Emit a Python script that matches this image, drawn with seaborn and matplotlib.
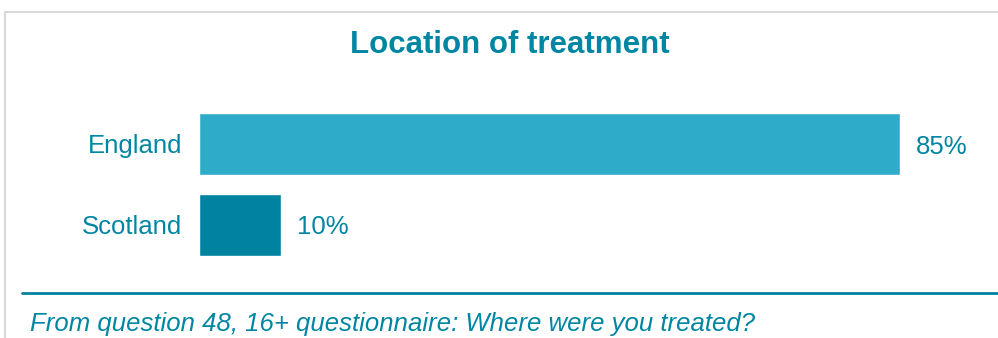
import matplotlib
matplotlib.use("Agg")
import matplotlib.pyplot as plt
from matplotlib.patches import Rectangle
from matplotlib.lines import Line2D
import seaborn as sns
import pandas as pd

# Survey results
locations = ["England", "Scotland"]
percentages = [85, 10]
bar_colors = ["#2EABC9", "#0083A1"]
title = "Location of treatment"
footnote = "From question 48, 16+ questionnaire: Where were you treated?"

TEAL = "#0086A3"

sns.set_theme(style="white")
plt.rcParams["font.family"] = ["Liberation Sans", "DejaVu Sans"]

W, H = 998, 338
fig = plt.figure(figsize=(W / 100, H / 100), dpi=100)
fig.patch.set_facecolor("white")

# Light grey frame around the panel
fig.patches.append(Rectangle((5 / W, -0.1), 1.2, 1 - 12 / H + 0.1,
                             transform=fig.transFigure, fill=False,
                             edgecolor="#D9D9D9", linewidth=1.5))

ax_left = 199 / W
ax_top = 103.5
ax_bot = 265.5
ax = fig.add_axes([ax_left, 1 - ax_bot / H, 1 - ax_left, (ax_bot - ax_top) / H])

df = pd.DataFrame({"location": locations, "pct": percentages})
sns.barplot(data=df, x="pct", y="location", hue="location",
            palette=bar_colors, orient="h", width=0.765, legend=False,
            saturation=1, ax=ax)

px_per_pct = 701 / 85
ax.set_xlim(0, (W - 199) / px_per_pct)
ax.set_ylim(1.5, -0.5)
ax.set_facecolor("none")
for s in ax.spines.values():
    s.set_visible(False)
ax.set_xticks([])
ax.set_xlabel("")
ax.set_ylabel("")
ax.tick_params(axis="y", length=0, pad=12, labelsize=18.5, labelcolor=TEAL)

for i, v in enumerate(percentages):
    ax.annotate(f"{v}%", xy=(v, i), xytext=(11.5, 0), textcoords="offset points",
                ha="left", va="center_baseline", fontsize=18.5, color=TEAL)

fig.text(510 / W, 1 - 45 / H, title, ha="center", va="center",
         fontsize=22.5, fontweight="bold", color=TEAL)

fig.lines.append(Line2D([22 / W, 1.0], [1 - 293 / H] * 2,
                        transform=fig.transFigure, color="#0083A1", linewidth=2))

fig.text(30 / W, 1 - 324 / H, footnote, ha="left", va="center",
         fontsize=18.5, style="italic", color=TEAL)

fig.savefig("out.png", dpi=100, facecolor="white")
